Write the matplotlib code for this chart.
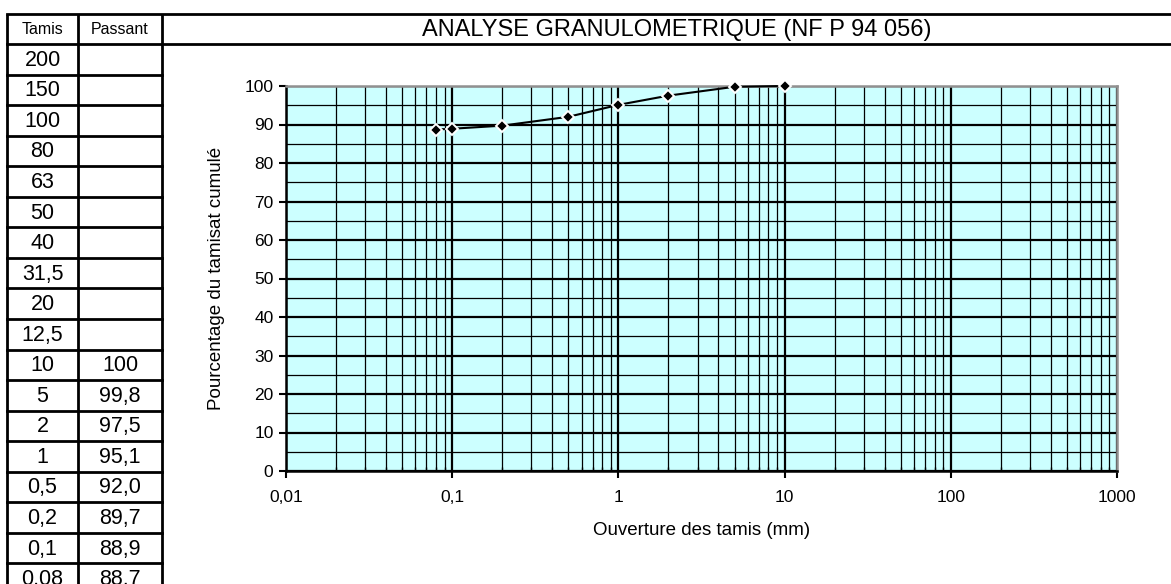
import numpy as np
import matplotlib.pyplot as plt
from matplotlib.ticker import LogLocator, FixedLocator, NullFormatter

plt.rcParams['font.family'] = ['Liberation Sans', 'DejaVu Sans']

# tableau des tamis
tamis = ["200", "150", "100", "80", "63", "50", "40", "31,5", "20", "12,5",
         "10", "5", "2", "1", "0,5", "0,2", "0,1", "0,08"]
passant = ["", "", "", "", "", "", "", "", "", "",
           "100", "99,8", "97,5", "95,1", "92,0", "89,7", "88,9", "88,7"]

# courbe granulometrique
ouverture = [0.08, 0.1, 0.2, 0.5, 1, 2, 5, 10]
pct = [88.7, 88.9, 89.7, 92.0, 95.1, 97.5, 99.8, 100]

W, H = 1171, 584
fig = plt.figure(figsize=(W / 100, H / 100), dpi=100)

# calque en pixels pour tableau + cadre du titre
bg = fig.add_axes([0, 0, 1, 1])
bg.set_xlim(0, W)
bg.set_ylim(H, 0)
bg.axis('off')

x0, x1, x2 = 7, 78, 162
y_top, y_head = 14, 44
row_h = 30.55
n = len(tamis)
y_bot = y_head + n * row_h
lw = 2.0
# lignes du tableau
for x in (x0, x1, x2):
    bg.plot([x, x], [y_top, y_bot], color='black', lw=lw, solid_capstyle='butt')
bg.plot([x0, W + 5], [y_top, y_top], color='black', lw=lw)
bg.plot([x0, W + 5], [y_head, y_head], color='black', lw=lw)
for i in range(1, n + 1):
    y = y_head + i * row_h
    bg.plot([x0, x2], [y, y], color='black', lw=lw)

bg.text((x0 + x1) / 2, (y_top + y_head) / 2 + 1, "Tamis", ha='center', va='center', fontsize=11.5)
bg.text((x1 + x2) / 2, (y_top + y_head) / 2 + 1, "Passant", ha='center', va='center', fontsize=11.5)
for i in range(n):
    yc = y_head + (i + 0.5) * row_h + 1
    bg.text((x0 + x1) / 2, yc, tamis[i], ha='center', va='center', fontsize=15.5)
    if passant[i]:
        bg.text((x1 + x2) / 2, yc, passant[i], ha='center', va='center', fontsize=15.5)

bg.text(677, (y_top + y_head) / 2 + 1, "ANALYSE GRANULOMETRIQUE (NF P 94 056)",
        ha='center', va='center', fontsize=17)

# graphique
pl, pr, pt, pb = 286, 1117, 86, 471
ax = fig.add_axes([pl / W, (H - pb) / H, (pr - pl) / W, (pb - pt) / H])
ax.set_facecolor('#ccffff')
ax.set_xscale('log')
ax.set_xlim(0.01, 1000)
ax.set_ylim(0, 100)

ax.xaxis.set_major_locator(LogLocator(base=10, numticks=10))
ax.xaxis.set_minor_locator(LogLocator(base=10, subs=np.arange(2, 10), numticks=20))
ax.xaxis.set_minor_formatter(NullFormatter())
ax.set_xticks([0.01, 0.1, 1, 10, 100, 1000])
ax.set_xticklabels(["0,01", "0,1", "1", "10", "100", "1000"])
ax.yaxis.set_major_locator(FixedLocator(np.arange(0, 101, 10)))
ax.yaxis.set_minor_locator(FixedLocator(np.arange(5, 100, 10)))

ax.grid(which='major', color='black', lw=1.6)
ax.grid(which='minor', color='black', lw=0.9)
ax.set_axisbelow(True)

ax.tick_params(axis='both', which='major', direction='out', length=5, width=1.5,
               labelsize=12.5, pad=4)
ax.tick_params(axis='x', which='major', pad=9)
ax.tick_params(axis='x', which='minor', direction='in', length=3, width=1)
ax.tick_params(axis='y', which='minor', length=0)

for s in ('left', 'bottom'):
    ax.spines[s].set_color('black')
    ax.spines[s].set_linewidth(1.8)
for s in ('top', 'right'):
    ax.spines[s].set_color('#909090')
    ax.spines[s].set_linewidth(1.8)

ax.plot(ouverture, pct, color='black', lw=1.5, marker='D', markersize=6,
        markerfacecolor='black', markeredgecolor='white', markeredgewidth=1.4,
        clip_on=False, zorder=5)

ax.set_ylabel("Pourcentage du tamisat cumulé", fontsize=13.5, labelpad=14)
ax.set_xlabel("Ouverture des tamis (mm)", fontsize=13.5, labelpad=12)

fig.savefig("out.png", dpi=100)
